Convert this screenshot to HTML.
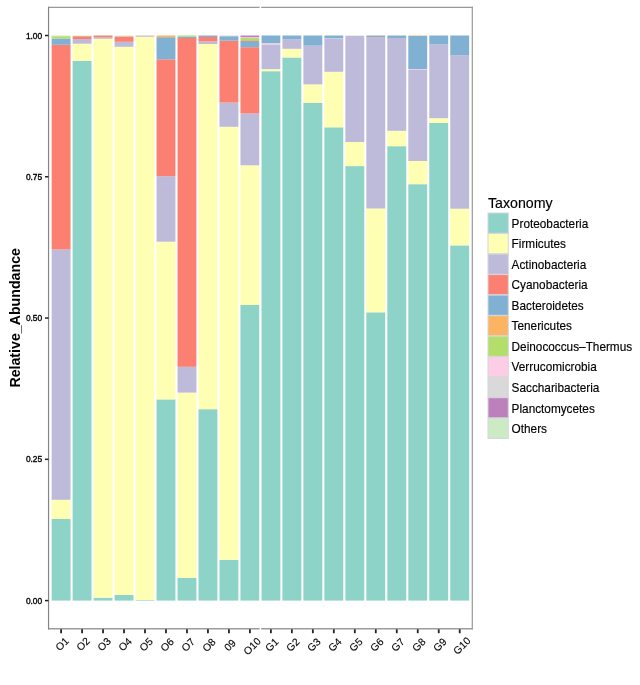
<!DOCTYPE html>
<html><head><meta charset="utf-8"><style>
html,body{margin:0;padding:0;background:#fff;}
body{width:640px;height:685px;overflow:hidden;}
svg{display:block;will-change:transform;}
text{font-family:"Liberation Sans",sans-serif;fill:#000;}
.yt{font-size:8.4px;fill:#000;stroke:#000;stroke-width:0.35px;}
.xt{font-size:10.4px;fill:#000;stroke:#000;stroke-width:0.12px;}
.yl{font-size:14.2px;font-weight:bold;}
.lt{font-size:14.2px;stroke:#000;stroke-width:0.15px;}
.lg{font-size:11.8px;stroke:#000;stroke-width:0.15px;}
</style></head><body>
<svg width="640" height="685" viewBox="0 0 640 685">
<rect width="640" height="685" fill="#fff"/>
<rect x="51.65" y="519.00" width="18.88" height="81.60" fill="#8DD3C7"/>
<rect x="51.65" y="499.80" width="18.88" height="19.20" fill="#FFFFB3"/>
<rect x="51.65" y="249.50" width="18.88" height="250.30" fill="#BEBADA"/>
<rect x="51.65" y="44.80" width="18.88" height="204.70" fill="#FB8072"/>
<rect x="51.65" y="38.50" width="18.88" height="6.30" fill="#80B1D3"/>
<rect x="51.65" y="36.20" width="18.88" height="2.30" fill="#B3DE69"/>
<rect x="51.65" y="35.50" width="18.88" height="0.70" fill="#CCEBC5"/>
<rect x="72.63" y="60.80" width="18.88" height="539.80" fill="#8DD3C7"/>
<rect x="72.63" y="43.70" width="18.88" height="17.10" fill="#FFFFB3"/>
<rect x="72.63" y="39.10" width="18.88" height="4.60" fill="#BEBADA"/>
<rect x="72.63" y="36.20" width="18.88" height="2.90" fill="#FB8072"/>
<rect x="72.63" y="35.50" width="18.88" height="0.70" fill="#CCEBC5"/>
<rect x="93.61" y="597.70" width="18.88" height="2.90" fill="#8DD3C7"/>
<rect x="93.61" y="38.80" width="18.88" height="558.90" fill="#FFFFB3"/>
<rect x="93.61" y="37.20" width="18.88" height="1.60" fill="#BEBADA"/>
<rect x="93.61" y="35.50" width="18.88" height="1.70" fill="#FB8072"/>
<rect x="114.59" y="594.90" width="18.88" height="5.70" fill="#8DD3C7"/>
<rect x="114.59" y="46.80" width="18.88" height="548.10" fill="#FFFFB3"/>
<rect x="114.59" y="41.80" width="18.88" height="5.00" fill="#BEBADA"/>
<rect x="114.59" y="36.40" width="18.88" height="5.40" fill="#FB8072"/>
<rect x="114.59" y="35.50" width="18.88" height="0.90" fill="#CCEBC5"/>
<rect x="135.57" y="600.00" width="18.88" height="0.60" fill="#8DD3C7"/>
<rect x="135.57" y="36.80" width="18.88" height="563.20" fill="#FFFFB3"/>
<rect x="135.57" y="35.50" width="18.88" height="1.30" fill="#CBBFCC"/>
<rect x="156.55" y="399.40" width="18.88" height="201.20" fill="#8DD3C7"/>
<rect x="156.55" y="241.70" width="18.88" height="157.70" fill="#FFFFB3"/>
<rect x="156.55" y="176.20" width="18.88" height="65.50" fill="#BEBADA"/>
<rect x="156.55" y="59.30" width="18.88" height="116.90" fill="#FB8072"/>
<rect x="156.55" y="37.20" width="18.88" height="22.10" fill="#80B1D3"/>
<rect x="156.55" y="35.50" width="18.88" height="1.70" fill="#FDB462"/>
<rect x="177.53" y="577.80" width="18.88" height="22.80" fill="#8DD3C7"/>
<rect x="177.53" y="392.60" width="18.88" height="185.20" fill="#FFFFB3"/>
<rect x="177.53" y="366.80" width="18.88" height="25.80" fill="#BEBADA"/>
<rect x="177.53" y="38.00" width="18.88" height="328.80" fill="#FB8072"/>
<rect x="177.53" y="36.50" width="18.88" height="1.50" fill="#80B1D3"/>
<rect x="177.53" y="35.50" width="18.88" height="1.00" fill="#B3DE69"/>
<rect x="198.51" y="409.20" width="18.88" height="191.40" fill="#8DD3C7"/>
<rect x="198.51" y="44.00" width="18.88" height="365.20" fill="#FFFFB3"/>
<rect x="198.51" y="41.50" width="18.88" height="2.50" fill="#BEBADA"/>
<rect x="198.51" y="37.00" width="18.88" height="4.50" fill="#FB8072"/>
<rect x="198.51" y="35.50" width="18.88" height="1.50" fill="#80B1D3"/>
<rect x="219.49" y="559.80" width="18.88" height="40.80" fill="#8DD3C7"/>
<rect x="219.49" y="126.80" width="18.88" height="433.00" fill="#FFFFB3"/>
<rect x="219.49" y="102.60" width="18.88" height="24.20" fill="#BEBADA"/>
<rect x="219.49" y="40.70" width="18.88" height="61.90" fill="#FB8072"/>
<rect x="219.49" y="36.20" width="18.88" height="4.50" fill="#80B1D3"/>
<rect x="219.49" y="35.50" width="18.88" height="0.70" fill="#D9D9D9"/>
<rect x="240.47" y="305.00" width="18.88" height="295.60" fill="#8DD3C7"/>
<rect x="240.47" y="165.30" width="18.88" height="139.70" fill="#FFFFB3"/>
<rect x="240.47" y="113.50" width="18.88" height="51.80" fill="#BEBADA"/>
<rect x="240.47" y="47.20" width="18.88" height="66.30" fill="#FB8072"/>
<rect x="240.47" y="41.00" width="18.88" height="6.20" fill="#80B1D3"/>
<rect x="240.47" y="40.00" width="18.88" height="1.00" fill="#FDB462"/>
<rect x="240.47" y="38.00" width="18.88" height="2.00" fill="#B3DE69"/>
<rect x="240.47" y="37.20" width="18.88" height="0.80" fill="#FCCDE5"/>
<rect x="240.47" y="35.50" width="18.88" height="1.70" fill="#BC80BD"/>
<rect x="261.45" y="71.20" width="18.88" height="529.40" fill="#8DD3C7"/>
<rect x="261.45" y="69.20" width="18.88" height="2.00" fill="#FFFFB3"/>
<rect x="261.45" y="44.40" width="18.88" height="24.80" fill="#BEBADA"/>
<rect x="261.45" y="43.20" width="18.88" height="1.20" fill="#FCCDE5"/>
<rect x="261.45" y="35.50" width="18.88" height="7.70" fill="#80B1D3"/>
<rect x="282.43" y="57.50" width="18.88" height="543.10" fill="#8DD3C7"/>
<rect x="282.43" y="48.80" width="18.88" height="8.70" fill="#FFFFB3"/>
<rect x="282.43" y="39.20" width="18.88" height="9.60" fill="#BEBADA"/>
<rect x="282.43" y="35.50" width="18.88" height="3.70" fill="#80B1D3"/>
<rect x="303.41" y="102.80" width="18.88" height="497.80" fill="#8DD3C7"/>
<rect x="303.41" y="84.40" width="18.88" height="18.40" fill="#FFFFB3"/>
<rect x="303.41" y="45.60" width="18.88" height="38.80" fill="#BEBADA"/>
<rect x="303.41" y="35.50" width="18.88" height="10.10" fill="#80B1D3"/>
<rect x="324.39" y="127.30" width="18.88" height="473.30" fill="#8DD3C7"/>
<rect x="324.39" y="71.80" width="18.88" height="55.50" fill="#FFFFB3"/>
<rect x="324.39" y="38.80" width="18.88" height="33.00" fill="#BEBADA"/>
<rect x="324.39" y="38.40" width="18.88" height="0.40" fill="#FCCDE5"/>
<rect x="324.39" y="35.50" width="18.88" height="2.90" fill="#80B1D3"/>
<rect x="345.37" y="166.10" width="18.88" height="434.50" fill="#8DD3C7"/>
<rect x="345.37" y="142.00" width="18.88" height="24.10" fill="#FFFFB3"/>
<rect x="345.37" y="36.00" width="18.88" height="106.00" fill="#BEBADA"/>
<rect x="345.37" y="35.50" width="18.88" height="0.50" fill="#D9D9D9"/>
<rect x="366.35" y="312.30" width="18.88" height="288.30" fill="#8DD3C7"/>
<rect x="366.35" y="208.50" width="18.88" height="103.80" fill="#FFFFB3"/>
<rect x="366.35" y="37.50" width="18.88" height="171.00" fill="#BEBADA"/>
<rect x="366.35" y="37.00" width="18.88" height="0.50" fill="#FB8072"/>
<rect x="366.35" y="35.50" width="18.88" height="1.50" fill="#80B1D3"/>
<rect x="387.33" y="146.20" width="18.88" height="454.40" fill="#8DD3C7"/>
<rect x="387.33" y="130.80" width="18.88" height="15.40" fill="#FFFFB3"/>
<rect x="387.33" y="38.00" width="18.88" height="92.80" fill="#BEBADA"/>
<rect x="387.33" y="35.50" width="18.88" height="2.50" fill="#80B1D3"/>
<rect x="408.31" y="184.20" width="18.88" height="416.40" fill="#8DD3C7"/>
<rect x="408.31" y="161.00" width="18.88" height="23.20" fill="#FFFFB3"/>
<rect x="408.31" y="70.00" width="18.88" height="91.00" fill="#BEBADA"/>
<rect x="408.31" y="69.10" width="18.88" height="0.90" fill="#FCCDE5"/>
<rect x="408.31" y="36.00" width="18.88" height="33.10" fill="#80B1D3"/>
<rect x="408.31" y="35.50" width="18.88" height="0.50" fill="#FDB462"/>
<rect x="429.29" y="122.80" width="18.88" height="477.80" fill="#8DD3C7"/>
<rect x="429.29" y="118.20" width="18.88" height="4.60" fill="#FFFFB3"/>
<rect x="429.29" y="44.20" width="18.88" height="74.00" fill="#BEBADA"/>
<rect x="429.29" y="35.50" width="18.88" height="8.70" fill="#80B1D3"/>
<rect x="450.27" y="245.40" width="18.88" height="355.20" fill="#8DD3C7"/>
<rect x="450.27" y="208.70" width="18.88" height="36.70" fill="#FFFFB3"/>
<rect x="450.27" y="55.20" width="18.88" height="153.50" fill="#BEBADA"/>
<rect x="450.27" y="35.50" width="18.88" height="19.70" fill="#80B1D3"/>
<line x1="48" y1="7.4" x2="472.9" y2="7.4" stroke="#999" stroke-width="1.2"/>
<line x1="472.3" y1="6.8" x2="472.3" y2="629.4" stroke="#999" stroke-width="1.2"/>
<line x1="48" y1="628.75" x2="472.9" y2="628.75" stroke="#9c9c9c" stroke-width="1.3"/>
<line x1="48.55" y1="6.8" x2="48.55" y2="629.4" stroke="#858585" stroke-width="1.2"/>
<line x1="45.0" y1="600.60" x2="48.50" y2="600.60" stroke="#222" stroke-width="1.5"/>
<text x="42.2" y="603.60" text-anchor="end" class="yt">0.00</text>
<line x1="45.0" y1="459.33" x2="48.50" y2="459.33" stroke="#222" stroke-width="1.5"/>
<text x="42.2" y="462.33" text-anchor="end" class="yt">0.25</text>
<line x1="45.0" y1="318.05" x2="48.50" y2="318.05" stroke="#222" stroke-width="1.5"/>
<text x="42.2" y="321.05" text-anchor="end" class="yt">0.50</text>
<line x1="45.0" y1="176.77" x2="48.50" y2="176.77" stroke="#222" stroke-width="1.5"/>
<text x="42.2" y="179.77" text-anchor="end" class="yt">0.75</text>
<line x1="45.0" y1="35.50" x2="48.50" y2="35.50" stroke="#222" stroke-width="1.5"/>
<text x="42.2" y="38.50" text-anchor="end" class="yt">1.00</text>
<line x1="61.09" y1="629.3" x2="61.09" y2="633.2" stroke="#222" stroke-width="1.8"/>
<text transform="translate(64.69,646.50) rotate(-45)" text-anchor="middle" class="xt">O1</text>
<line x1="82.07" y1="629.3" x2="82.07" y2="633.2" stroke="#222" stroke-width="1.8"/>
<text transform="translate(85.67,646.65) rotate(-45)" text-anchor="middle" class="xt">O2</text>
<line x1="103.05" y1="629.3" x2="103.05" y2="633.2" stroke="#222" stroke-width="1.8"/>
<text transform="translate(106.65,646.80) rotate(-45)" text-anchor="middle" class="xt">O3</text>
<line x1="124.03" y1="629.3" x2="124.03" y2="633.2" stroke="#222" stroke-width="1.8"/>
<text transform="translate(127.63,646.95) rotate(-45)" text-anchor="middle" class="xt">O4</text>
<line x1="145.01" y1="629.3" x2="145.01" y2="633.2" stroke="#222" stroke-width="1.8"/>
<text transform="translate(148.61,647.10) rotate(-45)" text-anchor="middle" class="xt">O5</text>
<line x1="165.99" y1="629.3" x2="165.99" y2="633.2" stroke="#222" stroke-width="1.8"/>
<text transform="translate(169.59,647.25) rotate(-45)" text-anchor="middle" class="xt">O6</text>
<line x1="186.97" y1="629.3" x2="186.97" y2="633.2" stroke="#222" stroke-width="1.8"/>
<text transform="translate(190.57,647.40) rotate(-45)" text-anchor="middle" class="xt">O7</text>
<line x1="207.95" y1="629.3" x2="207.95" y2="633.2" stroke="#222" stroke-width="1.8"/>
<text transform="translate(211.55,647.55) rotate(-45)" text-anchor="middle" class="xt">O8</text>
<line x1="228.93" y1="629.3" x2="228.93" y2="633.2" stroke="#222" stroke-width="1.8"/>
<text transform="translate(232.53,647.70) rotate(-45)" text-anchor="middle" class="xt">09</text>
<line x1="249.91" y1="629.3" x2="249.91" y2="633.2" stroke="#222" stroke-width="1.8"/>
<text transform="translate(254.71,648.85) rotate(-45)" text-anchor="middle" class="xt">O10</text>
<line x1="270.89" y1="629.3" x2="270.89" y2="633.2" stroke="#222" stroke-width="1.8"/>
<text transform="translate(274.49,647.40) rotate(-45)" text-anchor="middle" class="xt">G1</text>
<line x1="291.87" y1="629.3" x2="291.87" y2="633.2" stroke="#222" stroke-width="1.8"/>
<text transform="translate(295.47,647.40) rotate(-45)" text-anchor="middle" class="xt">G2</text>
<line x1="312.85" y1="629.3" x2="312.85" y2="633.2" stroke="#222" stroke-width="1.8"/>
<text transform="translate(316.45,647.40) rotate(-45)" text-anchor="middle" class="xt">G3</text>
<line x1="333.83" y1="629.3" x2="333.83" y2="633.2" stroke="#222" stroke-width="1.8"/>
<text transform="translate(337.43,647.40) rotate(-45)" text-anchor="middle" class="xt">G4</text>
<line x1="354.81" y1="629.3" x2="354.81" y2="633.2" stroke="#222" stroke-width="1.8"/>
<text transform="translate(358.41,647.40) rotate(-45)" text-anchor="middle" class="xt">G5</text>
<line x1="375.79" y1="629.3" x2="375.79" y2="633.2" stroke="#222" stroke-width="1.8"/>
<text transform="translate(379.39,647.40) rotate(-45)" text-anchor="middle" class="xt">G6</text>
<line x1="396.77" y1="629.3" x2="396.77" y2="633.2" stroke="#222" stroke-width="1.8"/>
<text transform="translate(400.37,647.40) rotate(-45)" text-anchor="middle" class="xt">G7</text>
<line x1="417.75" y1="629.3" x2="417.75" y2="633.2" stroke="#222" stroke-width="1.8"/>
<text transform="translate(421.35,647.40) rotate(-45)" text-anchor="middle" class="xt">G8</text>
<line x1="438.73" y1="629.3" x2="438.73" y2="633.2" stroke="#222" stroke-width="1.8"/>
<text transform="translate(442.33,647.40) rotate(-45)" text-anchor="middle" class="xt">G9</text>
<line x1="459.71" y1="629.3" x2="459.71" y2="633.2" stroke="#222" stroke-width="1.8"/>
<text transform="translate(464.51,648.40) rotate(-45)" text-anchor="middle" class="xt">G10</text>
<rect x="259.6" y="0" width="1.6" height="634" fill="#ffffff"/>
<text transform="translate(19.9,387.6) rotate(-90)" class="yl">Relative_Abundance</text>
<text x="488.0" y="207.8" class="lt">Taxonomy</text>
<rect x="488.0" y="213.00" width="20.3" height="20.22" fill="#8DD3C7" stroke="#d6d6dc" stroke-width="1"/>
<text transform="translate(511.6,227.80) scale(1,1.08)" class="lg">Proteobacteria</text>
<rect x="488.0" y="233.52" width="20.3" height="20.22" fill="#FFFFB3" stroke="#d6d6dc" stroke-width="1"/>
<text transform="translate(511.6,248.32) scale(1,1.08)" class="lg">Firmicutes</text>
<rect x="488.0" y="254.05" width="20.3" height="20.22" fill="#BEBADA" stroke="#d6d6dc" stroke-width="1"/>
<text transform="translate(511.6,268.85) scale(1,1.08)" class="lg">Actinobacteria</text>
<rect x="488.0" y="274.57" width="20.3" height="20.22" fill="#FB8072" stroke="#d6d6dc" stroke-width="1"/>
<text transform="translate(511.6,289.37) scale(1,1.08)" class="lg">Cyanobacteria</text>
<rect x="488.0" y="295.09" width="20.3" height="20.22" fill="#80B1D3" stroke="#d6d6dc" stroke-width="1"/>
<text transform="translate(511.6,309.89) scale(1,1.08)" class="lg">Bacteroidetes</text>
<rect x="488.0" y="315.61" width="20.3" height="20.22" fill="#FDB462" stroke="#d6d6dc" stroke-width="1"/>
<text transform="translate(511.6,330.41) scale(1,1.08)" class="lg">Tenericutes</text>
<rect x="488.0" y="336.14" width="20.3" height="20.22" fill="#B3DE69" stroke="#d6d6dc" stroke-width="1"/>
<text transform="translate(511.6,350.94) scale(1,1.08)" class="lg">Deinococcus–Thermus</text>
<rect x="488.0" y="356.66" width="20.3" height="20.22" fill="#FCCDE5" stroke="#d6d6dc" stroke-width="1"/>
<text transform="translate(511.6,371.46) scale(1,1.08)" class="lg">Verrucomicrobia</text>
<rect x="488.0" y="377.18" width="20.3" height="20.22" fill="#D9D9D9" stroke="#d6d6dc" stroke-width="1"/>
<text transform="translate(511.6,391.98) scale(1,1.08)" class="lg">Saccharibacteria</text>
<rect x="488.0" y="397.70" width="20.3" height="20.22" fill="#BC80BD" stroke="#d6d6dc" stroke-width="1"/>
<text transform="translate(511.6,412.50) scale(1,1.08)" class="lg">Planctomycetes</text>
<rect x="488.0" y="418.23" width="20.3" height="20.22" fill="#CCEBC5" stroke="#d6d6dc" stroke-width="1"/>
<text transform="translate(511.6,433.03) scale(1,1.08)" class="lg">Others</text>
</svg>
</body></html>
